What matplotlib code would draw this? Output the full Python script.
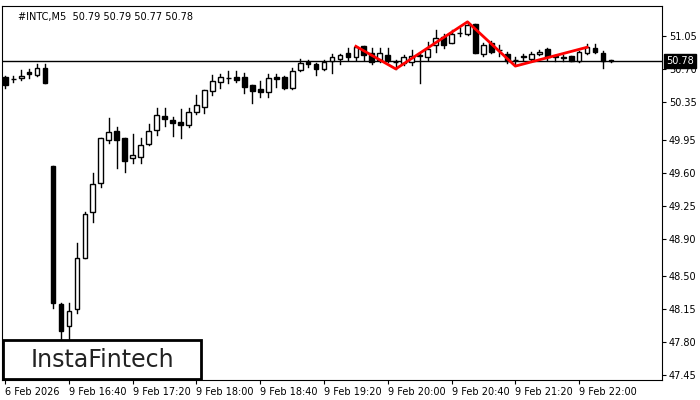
import matplotlib
matplotlib.use("Agg")
import matplotlib.pyplot as plt
from matplotlib.patches import Rectangle

opens  = [50.615,50.59,50.60,50.67,50.64,50.71,49.67,48.21,47.97,48.15,48.69,49.18,49.49,49.95,50.04,49.97,49.75,49.77,49.90,50.05,
          50.20,50.16,50.14,50.10,50.24,50.30,50.47,50.56,50.60,50.61,50.61,50.53,50.49,50.45,50.61,50.61,50.50,50.69,50.77,50.75,
          50.70,50.78,50.81,50.87,50.83,50.94,50.87,50.79,50.85,50.77,50.76,50.77,50.84,50.83,50.95,51.04,50.98,51.08,51.07,51.18,
          50.86,50.98,50.90,50.86,50.80,50.83,50.81,50.86,50.91,50.83,50.82,50.84,50.78,50.87,50.92,50.87,50.79]
highs  = [50.63,50.62,50.69,50.70,50.75,50.75,49.67,48.22,48.22,48.85,49.18,49.60,49.97,50.18,50.08,49.97,50.01,49.97,50.12,50.29,
          50.29,50.19,50.27,50.29,50.42,50.48,50.64,50.65,50.68,50.68,50.66,50.53,50.57,50.65,50.65,50.63,50.71,50.81,50.79,50.76,
          50.79,50.86,50.86,50.92,50.93,50.94,50.92,50.92,50.92,50.80,50.85,50.90,50.86,50.99,51.11,51.07,51.11,51.13,51.20,51.18,
          50.98,51.00,50.95,50.88,50.83,50.86,50.88,50.90,50.92,50.85,50.85,50.84,50.89,50.96,50.96,50.89,50.79]
lows   = [50.50,50.56,50.58,50.60,50.62,50.55,48.16,47.75,47.82,48.11,48.69,49.08,49.45,49.91,49.65,49.61,49.70,49.70,49.89,50.00,
          50.09,49.99,49.97,50.08,50.22,50.23,50.42,50.50,50.55,50.56,50.44,50.34,50.40,50.40,50.51,50.49,50.49,50.68,50.72,50.64,
          50.69,50.66,50.75,50.80,50.80,50.80,50.75,50.77,50.77,50.70,50.74,50.74,50.55,50.80,50.88,50.92,50.97,51.05,51.06,50.87,
          50.84,50.87,50.84,50.76,50.74,50.80,50.79,50.85,50.80,50.78,50.78,50.78,50.77,50.86,50.87,50.71,50.77]
closes = [50.53,50.59,50.63,50.65,50.71,50.55,48.22,47.92,48.13,48.69,49.16,49.48,49.97,50.03,49.95,49.72,49.79,49.89,50.04,50.21,
          50.17,50.13,50.10,50.24,50.32,50.48,50.57,50.61,50.60,50.58,50.51,50.47,50.45,50.60,50.59,50.50,50.68,50.76,50.75,50.70,
          50.77,50.83,50.85,50.83,50.93,50.85,50.77,50.87,50.79,50.77,50.83,50.84,50.85,50.91,51.03,50.95,51.07,51.08,51.17,50.87,
          50.95,50.88,50.90,50.78,50.79,50.83,50.86,50.88,50.83,50.83,50.82,50.78,50.88,50.93,50.88,50.78,50.78]

pattern_idx = [44, 49, 58, 64, 73]
pattern_px  = [50.94, 50.70, 51.20, 50.73, 50.93]

xtick_idx = [0, 8, 16, 24, 32, 40, 48, 56, 64, 72]
xtick_labels = ["6 Feb 2026", "9 Feb 16:40", "9 Feb 17:20", "9 Feb 18:00", "9 Feb 18:40", "9 Feb 19:20",
                "9 Feb 20:00", "9 Feb 20:40", "9 Feb 21:20", "9 Feb 22:00"]
ytick_vals = [51.05, 50.70, 50.35, 49.95, 49.60, 49.25, 48.90, 48.50, 48.15, 47.80, 47.45]
current = 50.78

fig = plt.figure(figsize=(7, 4), dpi=100)
ax = fig.add_axes([2/700, 20/400, 660/700, 374/400])
w = 0.6
for i, (o, h, l, c) in enumerate(zip(opens, highs, lows, closes)):
    ax.plot([i, i], [l, h], color="black", lw=1, zorder=2)
    bot, top = min(o, c), max(o, c)
    hgt = max(top - bot, 0.004)
    ax.add_patch(Rectangle((i - w/2, bot), w, hgt, facecolor="black" if c < o else "white",
                           edgecolor="black", lw=1, zorder=3))

ax.axhline(current, color="black", lw=1, zorder=1)
ax.plot(pattern_idx, pattern_px, color="#ff0000", lw=2, zorder=4)

ax.set_xlim(-0.4, 82.4)
ax.set_ylim(47.398, 51.368)
ax.yaxis.tick_right()
ax.set_yticks(ytick_vals)
ax.set_yticklabels([f"{v:.2f}" for v in ytick_vals], fontsize=7)
ax.set_xticks(xtick_idx)
ax.set_xticklabels(xtick_labels, fontsize=7, ha="left")
ax.tick_params(length=3, pad=2)
ax.text(current, current, "", transform=ax.transData)
ax.annotate(f"{current:.2f}", xy=(1, current), xycoords=("axes fraction", "data"),
            xytext=(3, 0), textcoords="offset points", fontsize=7, color="white",
            va="center", ha="left",
            bbox=dict(boxstyle="square,pad=0.2", fc="black", ec="black"))
ax.text(0.025, 0.985, "#INTC,M5  50.79 50.79 50.77 50.78", transform=ax.transAxes,
        fontsize=7, va="top", ha="left")
fig.patches.append(Rectangle((3/700, 21/400), 198/700, 39/400, transform=fig.transFigure,
                             facecolor="white", edgecolor="black", lw=2, zorder=10))
fig.text(102/700, 40/400, "InstaFintech", fontsize=17, ha="center", va="center",
         color="#222222", zorder=11)
fig.savefig("out.png", dpi=100)
